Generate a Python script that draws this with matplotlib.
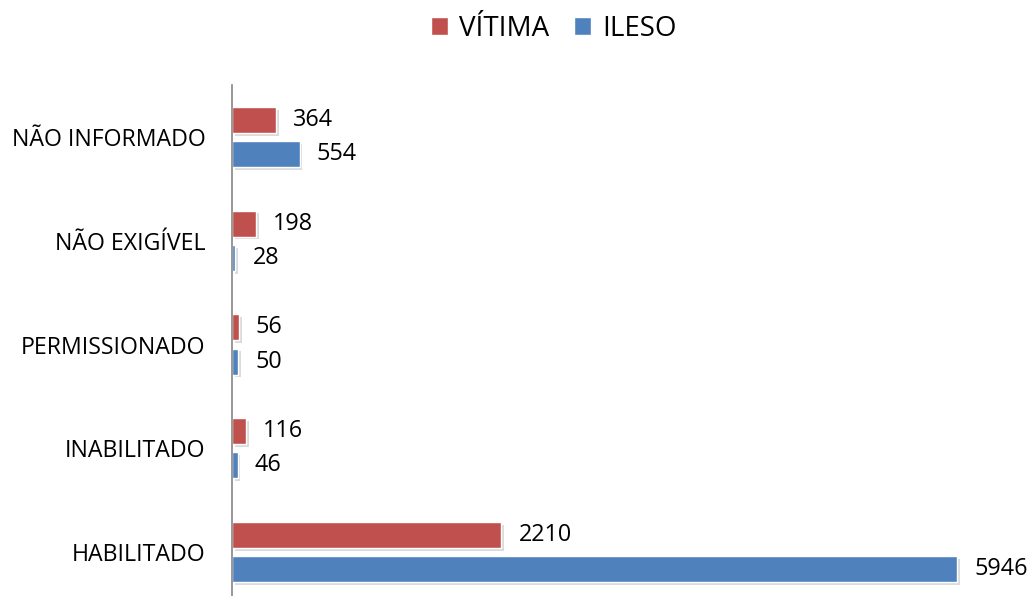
import matplotlib
matplotlib.use("Agg")
import matplotlib.pyplot as plt
import matplotlib.patheffects as pe
from matplotlib.patches import Patch
import numpy as np

categories = ["HABILITADO", "INABILITADO", "PERMISSIONADO", "NÃO EXIGÍVEL", "NÃO INFORMADO"]
vitima = [2210, 116, 56, 198, 364]
ileso = [5946, 46, 50, 28, 554]
series_names = ["VÍTIMA", "ILESO"]
colors = ["#C0504D", "#4F81BD"]

plt.rcParams['font.family'] = ['Open Sans', 'DejaVu Sans']

W, H = 1029, 596
fig = plt.figure(figsize=(W / 100, H / 100), dpi=100)
left = 232 / W
xmax = 7000
width_px = xmax * 725 / 5946
ax_top = 85
ax_bot = 604
ax = fig.add_axes([left, (H - ax_bot) / H, width_px / W, (ax_bot - ax_top) / H])

y = np.arange(len(categories))
h = 0.25
off = 0.165
shadow = [pe.SimplePatchShadow(offset=(2, -2), shadow_rgbFace="#999999", alpha=0.35), pe.Normal()]
b1 = ax.barh(y + off, vitima, height=h, color=colors[0], edgecolor="white", linewidth=1.0)
b2 = ax.barh(y - off, ileso, height=h, color=colors[1], edgecolor="white", linewidth=1.0)
for bars in (b1, b2):
    for p in bars:
        p.set_path_effects(shadow)

px_per_unit = 725 / 5946
for vals, dy in ((vitima, off), (ileso, -off)):
    for yi, v in zip(y, vals):
        ax.text(v + 17 / px_per_unit, yi + dy, f"{v}", va="center", ha="left",
                fontsize=16.8, color="black", clip_on=False)

ax.set_xlim(0, xmax)
ax.set_ylim(-0.5, len(categories) - 0.5)
ax.set_yticks(y)
ax.set_yticklabels(categories, fontsize=16.7)
ax.tick_params(axis="y", length=0, pad=19)
ax.set_xticks([])
for s in ("top", "right", "bottom"):
    ax.spines[s].set_visible(False)
ax.spines["left"].set_color("#868686")
ax.spines["left"].set_linewidth(1.2)

handles = [Patch(facecolor=colors[0], edgecolor="white"), Patch(facecolor=colors[1], edgecolor="white")]
fig.legend(handles, series_names, loc="center", bbox_to_anchor=(554 / W, 1 - 29 / H),
           ncol=2, frameon=False, fontsize=20, handlelength=0.6, handleheight=0.6,
           handletextpad=0.4, columnspacing=0.9)

fig.savefig("out.png", dpi=100)
